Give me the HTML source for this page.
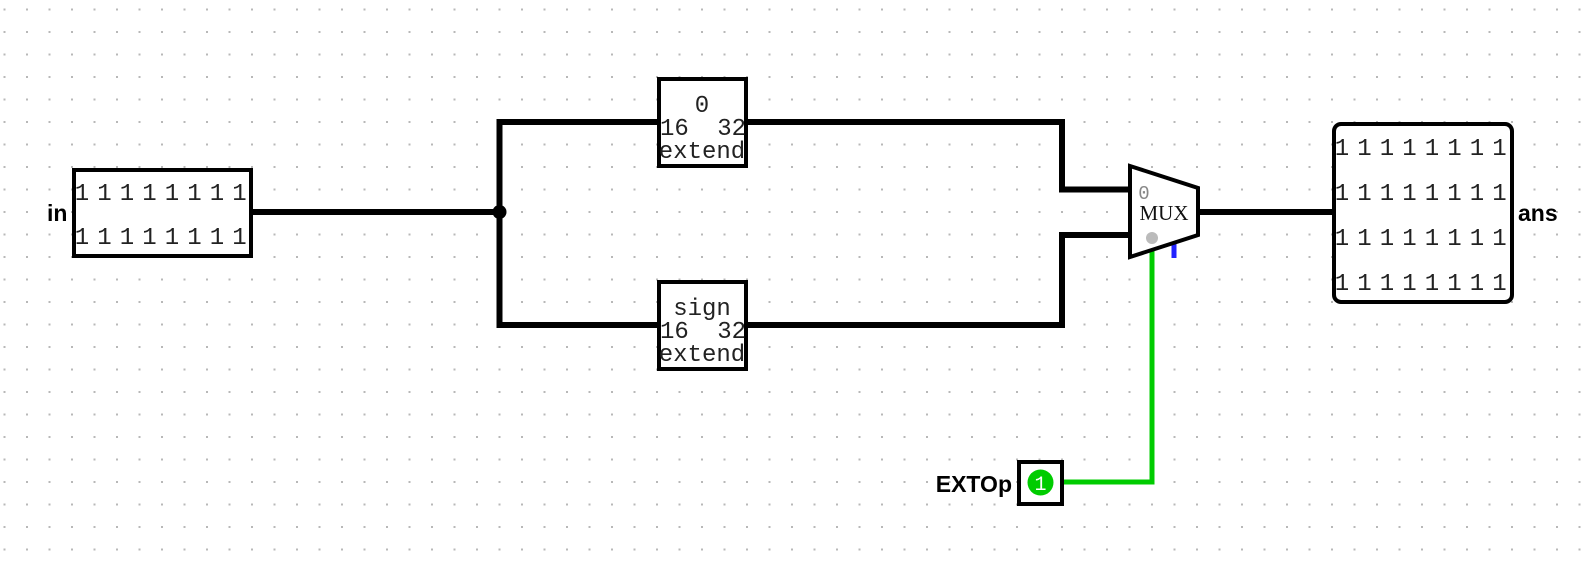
<!DOCTYPE html>
<html><head><meta charset="utf-8"><style>
html,body{margin:0;padding:0;background:#fff;}
svg{display:block}
.d{font-family:"Liberation Mono","DejaVu Sans Mono",monospace;font-size:24px;fill:#222}
.l{font-family:"Liberation Sans",sans-serif;font-weight:bold;font-size:23px;fill:#000}
</style></head><body>
<svg width="1596" height="561" viewBox="0 0 1596 561" xmlns="http://www.w3.org/2000/svg">
<defs><pattern id="g" x="3.5" y="8.5" width="22.5" height="22.5" patternUnits="userSpaceOnUse"><rect x="0" y="0" width="2" height="2" fill="#b8b8b8"/></pattern></defs>
<rect width="1596" height="561" fill="url(#g)"/>
<g stroke="#000" stroke-width="6" fill="none">
<polyline points="253,212 499.5,212"/>
<polyline points="657,122 499.5,122 499.5,325 657,325"/>
<polyline points="747,122 1062,122 1062,189.5 1130,189.5"/>
<polyline points="747,325 1062,325 1062,235 1130,235"/>
<polyline points="1198,212 1333,212"/>
</g>
<circle cx="499.5" cy="212" r="7" fill="#000"/>
<polyline points="1152,246 1152,482 1043,482" stroke="#00cc00" stroke-width="5" fill="none"/>
<line x1="1174" y1="244" x2="1174" y2="258" stroke="#2222ff" stroke-width="5"/>
<rect x="74" y="170" width="177" height="86" fill="#fff" stroke="#000" stroke-width="4"/>
<g class="d" text-anchor="middle">
<text x="82" y="200">1</text><text x="104.5" y="200">1</text><text x="127" y="200">1</text><text x="149.5" y="200">1</text><text x="172" y="200">1</text><text x="194.5" y="200">1</text><text x="217" y="200">1</text><text x="239.5" y="200">1</text>
<text x="82" y="244">1</text><text x="104.5" y="244">1</text><text x="127" y="244">1</text><text x="149.5" y="244">1</text><text x="172" y="244">1</text><text x="194.5" y="244">1</text><text x="217" y="244">1</text><text x="239.5" y="244">1</text>
</g>
<text class="l" x="47" y="221">in</text>
<rect x="659" y="79" width="87" height="87" fill="#fff" stroke="#000" stroke-width="4"/>
<rect x="659" y="282" width="87" height="87" fill="#fff" stroke="#000" stroke-width="4"/>
<g class="d" font-size="22">
<text x="702" y="112" text-anchor="middle">0</text>
<text x="660" y="135">16</text><text x="746" y="135" text-anchor="end">32</text>
<text x="702" y="158" text-anchor="middle">extend</text>
<text x="702" y="315" text-anchor="middle">sign</text>
<text x="660" y="338">16</text><text x="746" y="338" text-anchor="end">32</text>
<text x="702" y="361" text-anchor="middle">extend</text>
</g>
<polygon points="1130,166 1198,188 1198,235 1130,257" fill="#fff" stroke="#000" stroke-width="4"/>
<text x="1144" y="199" font-family="Liberation Mono,monospace" font-size="19" fill="#888" text-anchor="middle">0</text>
<text x="1164" y="220" font-family="Liberation Serif,serif" font-size="21" fill="#111" text-anchor="middle">MUX</text>
<circle cx="1152" cy="238" r="6" fill="#bbb"/>
<rect x="1334" y="124" width="178" height="178" rx="7" fill="#fff" stroke="#000" stroke-width="4"/>
<g class="d" text-anchor="middle">
<text x="1342" y="155">1</text><text x="1364.5" y="155">1</text><text x="1387" y="155">1</text><text x="1409.5" y="155">1</text><text x="1432" y="155">1</text><text x="1454.5" y="155">1</text><text x="1477" y="155">1</text><text x="1499.5" y="155">1</text>
<text x="1342" y="200">1</text><text x="1364.5" y="200">1</text><text x="1387" y="200">1</text><text x="1409.5" y="200">1</text><text x="1432" y="200">1</text><text x="1454.5" y="200">1</text><text x="1477" y="200">1</text><text x="1499.5" y="200">1</text>
<text x="1342" y="245">1</text><text x="1364.5" y="245">1</text><text x="1387" y="245">1</text><text x="1409.5" y="245">1</text><text x="1432" y="245">1</text><text x="1454.5" y="245">1</text><text x="1477" y="245">1</text><text x="1499.5" y="245">1</text>
<text x="1342" y="290">1</text><text x="1364.5" y="290">1</text><text x="1387" y="290">1</text><text x="1409.5" y="290">1</text><text x="1432" y="290">1</text><text x="1454.5" y="290">1</text><text x="1477" y="290">1</text><text x="1499.5" y="290">1</text>
</g>
<text class="l" x="1518" y="221">ans</text>
<rect x="1019" y="462" width="43" height="42" fill="#fff" stroke="#000" stroke-width="4"/>
<circle cx="1040.5" cy="482.5" r="13" fill="#00cc00"/>
<text x="1040.5" y="490" font-family="Liberation Mono,monospace" font-size="20" fill="#fff" text-anchor="middle">1</text>
<text class="l" x="1012" y="492" text-anchor="end">EXTOp</text>
</svg>
</body></html>
